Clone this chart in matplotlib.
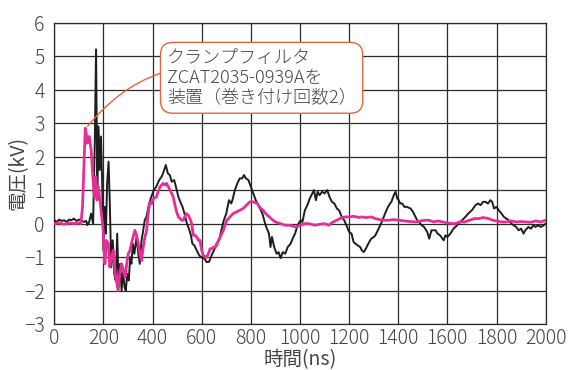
import matplotlib
matplotlib.use("Agg")
import matplotlib.pyplot as plt

# -------------------------------
# Data
# -------------------------------
t_black = [0, 10, 20, 30, 40, 50, 60, 70, 80, 90, 100, 110, 120, 130, 135, 142,
           150, 158, 165, 170, 175, 180, 185, 190, 195, 200, 205, 210, 215, 221,
           226, 232, 238, 244, 250, 256, 262, 268, 274, 280, 286, 291, 297, 303,
           309, 314, 320, 326, 335, 342, 348, 355, 362, 368, 375, 386, 395, 405,
           415, 427, 437, 445, 454, 462, 470, 478, 488, 495, 505, 513, 522, 530,
           540, 548, 556, 562, 570, 580, 590, 603, 612, 620, 630, 640, 650, 660,
           671, 680, 690, 700, 711, 720, 725, 735, 745, 755, 765, 772, 780, 790,
           800, 810, 820, 830, 847, 860, 874, 880, 886, 895, 905, 913, 921, 930,
           940, 950, 962, 970, 980, 990, 1003, 1010, 1020, 1030, 1040, 1050, 1057,
           1065, 1072, 1080, 1090, 1100, 1111, 1120, 1130, 1140, 1150, 1159, 1170,
           1180, 1192, 1200, 1210, 1218, 1226, 1235, 1245, 1252, 1260, 1268, 1278,
           1290, 1300, 1307, 1320, 1330, 1341, 1352, 1362, 1372, 1382, 1389, 1396,
           1402, 1408, 1416, 1425, 1435, 1450, 1460, 1470, 1477, 1485, 1495, 1505,
           1518, 1526, 1535, 1552, 1560, 1570, 1580, 1585, 1592, 1600, 1612, 1625,
           1633, 1645, 1660, 1673, 1685, 1700, 1714, 1725, 1735, 1745, 1755, 1765,
           1775, 1782, 1790, 1800, 1809, 1820, 1830, 1840, 1850, 1860, 1870, 1880,
           1890, 1900, 1910, 1917, 1930, 1940, 1950, 1958, 1970, 1980, 1992, 2000]
v_black = [0.1, 0.05, 0.12, 0.08, 0.1, 0.05, 0.12, 0.1, 0.15, 0.08, 0.12, 0.1, 0.05, 0.08, -0.05, 0.05,
           0.3, 0.0, 2.5, 5.2, 1.0, 2.9, 1.6, 2.6, 1.2, -0.8, 0.5, -0.3, 1.2, 1.85,
           0.6, -1.3, -0.5, -1.5, -1.7, -0.3, -1.9, -1.2, -2.0, -1.4, -1.9, -2.0, -1.5, -1.7,
           -1.0, -1.2, -0.6, -0.9, -0.4, -0.9, -1.2, -0.5, -0.2, 0.1, 0.2, 0.6, 0.8, 1.0,
           1.1, 1.3, 1.4, 1.55, 1.75, 1.5, 1.45, 1.25, 1.3, 1.1, 0.8, 0.65, 0.5, 0.3,
           0.0, -0.15, -0.35, -0.6, -0.65, -0.8, -0.95, -1.03, -1.05, -1.15, -1.14, -0.95, -0.8, -0.6,
           -0.5, -0.2, 0.1, 0.3, 0.7, 0.6, 0.7, 1.0, 1.2, 1.35, 1.35, 1.45, 1.35, 1.3,
           1.1, 0.9, 0.7, 0.55, 0.3, -0.05, -0.3, -0.7, -0.4, -0.7, -0.9, -0.85, -1.03, -0.85,
           -0.9, -0.7, -0.6, -0.45, -0.3, -0.05, 0.1, 0.05, 0.4, 0.55, 0.75, 0.9, 1.0,
           0.7, 0.95, 0.85, 0.95, 0.9, 1.0, 0.8, 0.65, 0.6, 0.45, 0.4, 0.2,
           0.1, -0.1, -0.25, -0.3, -0.55, -0.6, -0.65, -0.7, -0.8, -0.85, -0.75, -0.6,
           -0.45, -0.4, -0.35, -0.15, 0.0, 0.2, 0.4, 0.55, 0.65, 0.85, 0.95, 0.75,
           0.7, 0.6, 0.6, 0.5, 0.5, 0.45, 0.35, 0.2, 0.1, 0.05, -0.05, -0.1,
           -0.25, -0.45, -0.2, -0.2, -0.3, -0.35, -0.45, -0.5, -0.35, -0.4, -0.3, -0.15,
           -0.1, 0.0, 0.1, 0.2, 0.3, 0.4, 0.55, 0.6, 0.55, 0.65, 0.65, 0.6,
           0.7, 0.65, 0.45, 0.5, 0.4, 0.3, 0.2, 0.15, 0.1, 0.0, -0.05, -0.1,
           -0.2, -0.15, -0.3, -0.2, -0.1, -0.15, -0.05, -0.1, -0.05, -0.1, -0.05, 0.0]

t_clamp = [0, 20, 40, 60, 80, 100, 108, 115, 122, 126, 130, 135, 142, 150, 156, 163,
           169, 174, 179, 186, 192, 199, 206, 212, 220, 226, 233, 240, 248, 255,
           260, 266, 274, 281, 288, 295, 301, 308, 314, 321, 328, 335, 342, 348,
           355, 362, 369, 376, 382, 389, 396, 404, 416, 423, 430, 437, 443, 450,
           457, 464, 471, 478, 484, 491, 498, 505, 512, 518, 525, 531, 538, 545,
           552, 559, 566, 573, 580, 587, 593, 600, 607, 614, 620, 627, 634, 641,
           648, 655, 661, 668, 675, 682, 688, 695, 702, 709, 715, 728, 742, 755,
           769, 782, 796, 810, 826, 840, 850, 860, 875, 890, 900, 920, 940, 960,
           982, 1000, 1020, 1036, 1060, 1080, 1100, 1117, 1135, 1150, 1170, 1185,
           1200, 1220, 1240, 1253, 1270, 1290, 1307, 1325, 1345, 1362, 1380, 1402,
           1425, 1450, 1470, 1490, 1510, 1524, 1545, 1560, 1580, 1600, 1620, 1633,
           1650, 1670, 1690, 1710, 1728, 1745, 1768, 1785, 1800, 1820, 1840, 1860,
           1880, 1900, 1920, 1940, 1960, 1980, 2000]
v_clamp = [0.0, 0.02, -0.02, 0.02, 0.0, 0.02, 0.0, 0.5, 2.0, 2.85, 2.7, 2.4, 2.6, 2.2, 1.5, 0.8,
           1.4, 0.7, 1.1, 0.7, 0.3, -0.2, -1.2, -0.5, -0.6, -1.3, -1.0, -0.8, -1.5, -1.8,
           -2.0, -1.5, -1.2, -1.4, -1.6, -1.2, -0.9, -0.8, -0.6, -0.4, -0.2, -0.35, -0.6, -0.9,
           -1.1, -0.7, -0.4, -0.2, 0.3, 0.65, 0.6, 0.75, 0.8, 0.95, 1.1, 1.15, 1.2, 1.15,
           1.2, 1.1, 1.0, 0.9, 0.8, 0.55, 0.35, 0.2, 0.15, 0.1, 0.1, 0.2, 0.3, 0.25,
           0.15, 0.0, -0.35, -0.35, -0.4, -0.5, -0.5, -0.8, -0.95, -1.0, -1.0, -0.9, -0.75, -0.75,
           -0.7, -0.7, -0.65, -0.5, -0.4, -0.3, -0.2, -0.05, 0.1, 0.15, 0.2, 0.3, 0.35, 0.4,
           0.45, 0.55, 0.65, 0.65, 0.6, 0.45, 0.4, 0.3, 0.2, 0.1, 0.05, 0.0, -0.05, -0.05,
           -0.1, -0.05, 0.0, 0.0, -0.05, -0.02, 0.0, -0.05, 0.05, 0.1, 0.18, 0.2,
           0.2, 0.22, 0.18, 0.2, 0.18, 0.2, 0.15, 0.12, 0.1, 0.1, 0.12, 0.1,
           0.08, 0.06, 0.05, 0.08, 0.1, 0.1, 0.05, 0.08, 0.05, 0.02, 0.0, 0.0,
           0.05, 0.05, 0.1, 0.15, 0.15, 0.18, 0.15, 0.1, 0.08, 0.05, 0.05, 0.08,
           0.05, 0.06, 0.05, 0.04, 0.08, 0.05, 0.1]

x_ticks = list(range(0, 2001, 200))
y_ticks = list(range(-3, 7))
note_text = "クランプフィルタ\nZCAT2035-0939Aを\n装置（巻き付け回数2）"

# -------------------------------
# Plot
# -------------------------------
plt.rcParams["font.family"] = ["Noto Sans CJK JP", "DejaVu Sans"]
plt.rcParams["font.weight"] = "light"
text_col = "#454545"

fig = plt.figure(figsize=(5.69, 3.70), dpi=100)
ax = fig.add_axes([0.0954, 0.124, 0.8636, 0.815])

ax.plot(t_black, v_black, color="#1e1e1e", lw=1.4, zorder=3)
ax.plot(t_clamp, v_clamp, color="#e62e96", lw=2.0, zorder=4)

ax.set_xlim(0, 2000)
ax.set_ylim(-3, 6)
ax.set_xticks(x_ticks)
ax.set_yticks(y_ticks)
ax.grid(True, color="#2a2a2a", lw=0.9)
ax.set_axisbelow(True)
for s in ax.spines.values():
    s.set_color("#2a2a2a")
    s.set_linewidth(0.9)

ax.tick_params(axis="x", length=0, pad=3, labelsize=14, labelcolor=text_col)
ax.tick_params(axis="y", length=0, pad=7, labelsize=14, labelcolor=text_col)
ax.set_xlabel("時間(ns)", fontsize=14, color=text_col, labelpad=0)
ax.set_ylabel("電圧(kV)", fontsize=14, color=text_col)
ax.yaxis.set_label_coords(-0.052, 0.5)

ax.annotate(note_text, xy=(135, 2.9), xytext=(458, 5.22),
            fontsize=13, color=text_col, ha="left", va="top", linespacing=1.15,
            bbox=dict(boxstyle="round,pad=0.35,rounding_size=0.7",
                      fc="white", ec="#e4643e", lw=1.0),
            arrowprops=dict(arrowstyle="-", color="#e4643e", lw=1.0,
                            connectionstyle="arc3,rad=0.35",
                            shrinkA=0, shrinkB=0),
            zorder=6)

plt.savefig("out.png", dpi=100)
plt.close()
